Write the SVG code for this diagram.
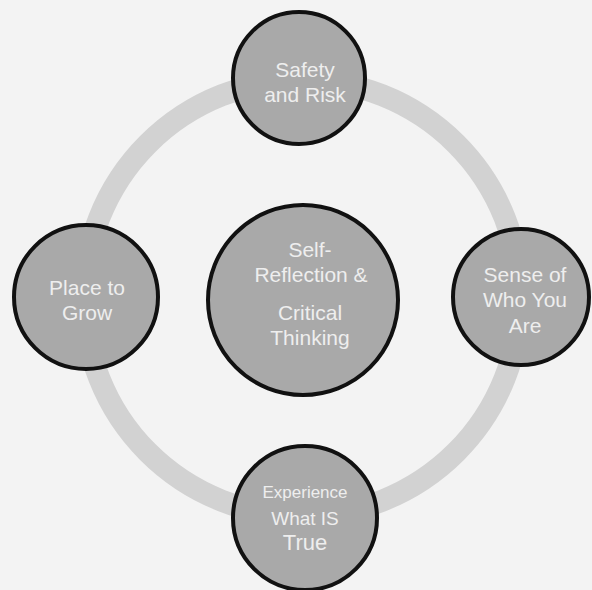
<svg xmlns="http://www.w3.org/2000/svg" width="592" height="590" viewBox="0 0 592 590">
  <style>
    .node { fill: #a9a9a9; stroke: #111; stroke-width: 4; }
    .lbl { font-family: "Liberation Sans", "Open Sans", sans-serif; font-size: 21px; fill: #eeeeee; text-anchor: middle; }
    .ring { fill: none; stroke: #d2d2d2; stroke-width: 22; }
  </style>
  <rect width="592" height="590" fill="#f3f3f3"/>
  <g id="connectors">
    <circle class="ring" cx="302" cy="298" r="218"/>
  </g>
  <g id="center">
    <circle class="node" cx="303" cy="300" r="95"/>
    <text class="lbl" x="310" y="257">Self-</text>
    <text class="lbl" x="311" y="282">Reflection &amp;</text>
    <text class="lbl" x="310" y="320">Critical</text>
    <text class="lbl" x="310" y="345">Thinking</text>
  </g>
  <g id="top">
    <circle class="node" cx="299" cy="78" r="66"/>
    <text class="lbl" x="305" y="77">Safety</text>
    <text class="lbl" x="305" y="102">and Risk</text>
  </g>
  <g id="left">
    <circle class="node" cx="86" cy="297" r="72"/>
    <text class="lbl" x="87" y="295">Place to</text>
    <text class="lbl" x="87" y="320">Grow</text>
  </g>
  <g id="right">
    <circle class="node" cx="521" cy="297" r="68"/>
    <text class="lbl" x="525" y="282">Sense of</text>
    <text class="lbl" x="525" y="307">Who You</text>
    <text class="lbl" x="525" y="333">Are</text>
  </g>
  <g id="bottom">
    <circle class="node" cx="305" cy="518" r="72"/>
    <text class="lbl" x="305" y="498" style="font-size:17px">Experience</text>
    <text class="lbl" x="305" y="525" style="font-size:19px">What IS</text>
    <text class="lbl" x="305" y="550" style="font-size:22px">True</text>
  </g>
</svg>
